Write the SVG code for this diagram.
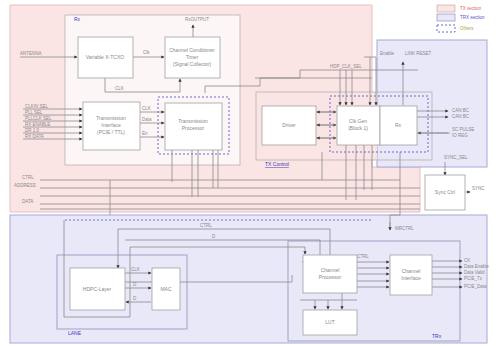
<svg xmlns="http://www.w3.org/2000/svg" width="496" height="346" viewBox="0 0 496 346">
<defs>
<marker id="ah" viewBox="0 0 6 6" refX="5" refY="3" markerWidth="4" markerHeight="4" orient="auto"><path d="M0,0L6,3L0,6z" fill="#333"/></marker>
<style>
.reg-p{fill:#fbe4e4;stroke:#e4c0c0;stroke-width:1}
.reg-b{fill:#e8e8f8;stroke:#a8a8d4;stroke-width:1}
.grp{fill:#fdf6f6;stroke:#b8b0b0;stroke-width:0.8}
.grpb{fill:none;stroke:#9090b8;stroke-width:0.8}
.box{fill:#ffffff;stroke:#a0a0a0;stroke-width:0.8}
.dash{fill:none;stroke:#6a6ad0;stroke-width:1;stroke-dasharray:2,2}
.ln{fill:none;stroke:#8a8a8a;stroke-width:0.8}
.ar{fill:none;stroke:#8a8a8a;stroke-width:0.8;marker-end:url(#ah)}
.t{font-family:"Liberation Sans",Arial,sans-serif;font-size:4.5px;fill:#888}
.tb{font-family:"Liberation Sans",Arial,sans-serif;font-size:5px;fill:#888;text-anchor:middle}
.lab{font-family:"Liberation Sans",Arial,sans-serif;font-size:5px;fill:#3a3ac0}
</style>
</defs>
<rect width="496" height="346" fill="#ffffff"/>
<!-- regions -->
<path class="reg-p" d="M10,5H372V167H420V212H10Z"/>
<rect class="reg-b" x="377" y="40" width="110" height="127"/>
<rect class="reg-b" x="10" y="215" width="477" height="128"/>
<g id="legend">
<rect x="437" y="5" width="18" height="7" fill="#fbe4e4" stroke="#c0a0a0" stroke-width="0.6"/>
<rect x="437" y="14" width="18" height="7" fill="#e8e8f8" stroke="#8080c0" stroke-width="0.6"/>
<rect x="437" y="25" width="18" height="7" class="dash"/>
<text class="t" x="460" y="10" style="fill:#e06060">TX section</text>
<text class="t" x="460" y="19" style="fill:#5050d0">TRX section</text>
<text class="t" x="460" y="30" style="fill:#b0a040">Others</text>
</g>
<!-- group frames -->
<rect class="grp" x="65" y="15" width="175" height="150"/>
<text class="lab" x="74" y="21">Rx</text>
<path d="M256,92H377V160H256Z" fill="#fbe4e4"/>
<rect x="256" y="92" width="176" height="68" fill="none" stroke="#b8b0b0" stroke-width="0.8"/>
<text class="lab" x="265" y="166" text-decoration="underline">TX Control</text>
<rect class="grpb" x="57" y="255" width="130" height="74"/>
<text class="lab" x="68" y="335">LANE</text>
<rect class="grpb" x="288" y="241" width="172" height="100"/>
<text class="lab" x="432" y="338">TRx</text>
<!-- dashed groups -->
<rect class="dash" x="158" y="97" width="71" height="57"/>
<rect class="dash" x="330" y="96" width="98" height="56"/>
<path class="dash" d="M65,220H372"/>
<g id="connectors">
<path class="ar" d="M20,57H77"/>
<path class="ar" d="M133,57H164"/>
<path class="ar" d="M193,37V25"/>
<path class="ln" d="M105,78V92H180"/>
<path class="ar" d="M180,92V79"/>
<path class="ln" d="M205,93V86H260V78H372"/>
<path class="ar" d="M23,109H82"/><path class="ar" d="M23,115H82"/><path class="ar" d="M23,121H82"/>
<path class="ar" d="M23,127H82"/><path class="ar" d="M23,133H82"/><path class="ar" d="M23,139H82"/>
<path class="ar" d="M140,112H164"/><path class="ar" d="M140,123H164"/><path class="ar" d="M140,137H164"/>
<path class="ln" d="M172,150V182"/><path class="ln" d="M192,150V197"/><path class="ln" d="M198,150V197"/>
<path class="ln" d="M213,150V188"/><path class="ln" d="M218,150V188"/>
<path class="ln" d="M40,180H400"/><path class="ln" d="M40,188H420"/><path class="ln" d="M40,196H420"/><path class="ln" d="M40,204H420"/><path class="ln" d="M40,209H420"/>
<path class="ln" d="M110,180V215"/>
<path class="ar" d="M316,112H336"/><path class="ar" d="M336,112H317"/>
<path class="ar" d="M316,125H336"/><path class="ar" d="M336,125H317"/>
<path class="ar" d="M316,138H336"/><path class="ar" d="M336,138H317"/>
<path class="ln" d="M255,78H300V70H418"/>
<path class="ar" d="M340,70V105"/><path class="ar" d="M346,70V105"/><path class="ar" d="M352,70V105"/>
<path class="ar" d="M370,57V105"/><path class="ar" d="M376,57V105"/>
<path class="ln" d="M364,57H376"/>
<path class="ar" d="M403,105V62"/>
<path class="ar" d="M417,111H448"/><path class="ar" d="M417,117H448"/><path class="ar" d="M448,133H418"/><path class="ln" d="M417,133H450"/>
<path class="ln" d="M346,145V200"/><path class="ln" d="M356,145V200"/><path class="ln" d="M364,145V190"/><path class="ln" d="M372,145V190"/>
<path class="ln" d="M322,152V180"/>
<path class="ar" d="M445,162V175"/>
<path class="ar" d="M465,192H470"/>
<path class="ln" d="M400,152V215H390V228"/>
<path class="ar" d="M390,222V230"/>
<path class="ln" d="M118,229H330V262H302"/>
<path class="ar" d="M118,229V268"/>
<path class="ln" d="M125,240H320V275"/>
<path class="ln" d="M130,247H305"/>
<path class="ar" d="M305,247V254"/>
<path class="ln" d="M64,220V317H130V247"/>
<path class="ar" d="M125,273H151"/><path class="ar" d="M125,288H151"/><path class="ar" d="M151,302H126"/>
<path class="ln" d="M80,282H292V275"/>
<path class="ar" d="M357,262H389"/><path class="ar" d="M357,268H389"/><path class="ar" d="M357,274H389"/><path class="ar" d="M357,281H389"/><path class="ar" d="M357,287H389"/>
<path class="ar" d="M432,261H462"/><path class="ar" d="M432,267H462"/><path class="ar" d="M432,273H462"/><path class="ar" d="M432,279H462"/><path class="ar" d="M432,287H462"/>
<path class="ar" d="M315,300V309"/><path class="ar" d="M328,300V309"/><path class="ar" d="M342,293V309"/>
<path class="ln" d="M300,300H357"/>
</g>
<!-- labels -->
<text class="t" x="20" y="55">ANTENNA</text>
<text class="t" x="143" y="54">Clk</text>
<text class="t" x="185" y="21">RxOUTPUT</text>
<text class="t" x="115" y="90">CLK</text>
<text class="t" x="25" y="108">CLKIN SEL</text><text class="t" x="25" y="114">PLL SEL</text><text class="t" x="25" y="120">PLLCLK SEL</text>
<text class="t" x="25" y="126">RX ENABLE</text><text class="t" x="25" y="132">DR 1:0</text><text class="t" x="25" y="138">RX DATA</text>
<text class="t" x="142" y="110">CLK</text><text class="t" x="142" y="121">Data</text><text class="t" x="142" y="135">En</text>
<text class="t" x="22" y="179">CTRL</text><text class="t" x="14" y="187">ADDRESS</text><text class="t" x="22" y="203">DATA</text>
<text class="t" x="330" y="68">HDP_CLK_SEL</text>
<text class="t" x="380" y="55">Enable</text><text class="t" x="405" y="55">LINK RESET</text>
<text class="t" x="452" y="112">CAN BC</text><text class="t" x="452" y="118">CAN BC</text>
<text class="t" x="452" y="131">SC PULSE</text><text class="t" x="452" y="137">IO REG</text>
<text class="t" x="444" y="159">SYNC_SEL</text>
<text class="t" x="472" y="190">SYNC</text>
<text class="t" x="395" y="230">MRCTRL</text>
<text class="t" x="200" y="227">CTRL</text><text class="t" x="212" y="238">D</text>
<text class="t" x="131" y="271">CLK</text><text class="t" x="133" y="286">D</text><text class="t" x="133" y="300">D</text>
<text class="t" x="357" y="258">CTRL</text>
<text class="t" x="464" y="262">CK</text><text class="t" x="464" y="268">Data Enable</text><text class="t" x="464" y="274">Data Valid</text>
<text class="t" x="464" y="280">PCIE_Tx</text><text class="t" x="464" y="288">PCIE_Data</text>
<!-- nodes -->
<g id="tcxo"><rect class="box" x="78" y="37" width="55" height="41"/><text class="tb" x="105" y="59">Variable X-TCXO</text></g>
<g id="cond"><rect class="box" x="165" y="37" width="55" height="41"/><text class="tb" x="192" y="52">Channel Conditioner</text><text class="tb" x="192" y="59">Timer</text><text class="tb" x="192" y="66">(Signal Collector)</text></g>
<g id="txif"><rect class="box" x="83" y="102" width="57" height="48"/><text class="tb" x="111" y="120">Transmission</text><text class="tb" x="111" y="127">Interface</text><text class="tb" x="111" y="134">(PCIE / TTL)</text></g>
<g id="txproc"><rect class="box" x="165" y="103" width="57" height="47"/><text class="tb" x="193" y="123">Transmission</text><text class="tb" x="193" y="130">Processor</text></g>
<g id="driver"><rect class="box" x="262" y="106" width="54" height="39"/><text class="tb" x="289" y="127">Driver</text></g>
<g id="clkgen"><rect class="box" x="337" y="106" width="43" height="39"/><text class="tb" x="358" y="123">Clk Gen</text><text class="tb" x="358" y="130">(Block 1)</text></g>
<g id="rxb"><rect class="box" x="380" y="106" width="37" height="39"/><text class="tb" x="398" y="127">Rx</text></g>
<g id="sync"><rect class="box" x="425" y="175" width="40" height="35"/><text class="tb" x="445" y="194">Sync Ctrl</text></g>
<g id="hdpc"><rect class="box" x="70" y="268" width="55" height="42"/><text class="tb" x="97" y="291">HDPC-Layer</text></g>
<g id="mac"><rect class="box" x="152" y="268" width="28" height="42"/><text class="tb" x="166" y="291">MAC</text></g>
<g id="chproc"><rect class="box" x="303" y="255" width="54" height="38"/><text class="tb" x="330" y="272">Channel</text><text class="tb" x="330" y="279">Processor</text></g>
<g id="chif"><rect class="box" x="390" y="255" width="42" height="40"/><text class="tb" x="411" y="273">Channel</text><text class="tb" x="411" y="280">Interface</text></g>
<g id="lut"><rect class="box" x="303" y="310" width="54" height="25"/><text class="tb" x="330" y="324">LUT</text></g>
</svg>
